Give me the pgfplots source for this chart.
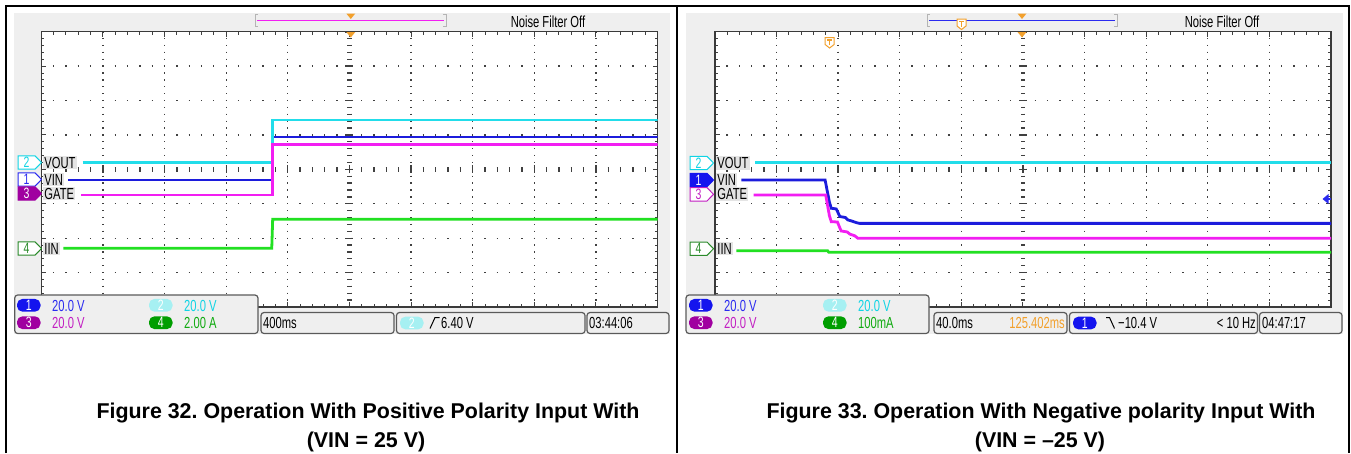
\documentclass[border=0pt]{standalone}
\usepackage{pgfplots}
\pgfplotsset{compat=1.18}
\usepackage{fontspec}
\setmainfont{Liberation Sans}
\newfontfamily\scopefont[FakeStretch=0.70]{Liberation Sans}

\definecolor{bgc}{HTML}{EFEFEF}
\definecolor{lblbg}{HTML}{E4E4E4}
\definecolor{framec}{HTML}{3A3A3A}
\definecolor{gridc}{HTML}{404040}
\definecolor{boxc}{HTML}{5A5A5A}
\definecolor{cvout}{HTML}{22DDEA}
\definecolor{cvin}{HTML}{1C1CDC}
\definecolor{cgate}{HTML}{F21EF2}
\definecolor{ciin}{HTML}{22E022}
\definecolor{torange}{HTML}{F2A02C}
\definecolor{tblue}{HTML}{2A2AF0}
\definecolor{tmag}{HTML}{C21EC2}
\definecolor{tcyan}{HTML}{10D4E4}
\definecolor{tgreen}{HTML}{10AA10}
\definecolor{mgreen}{HTML}{2A8A2A}
\definecolor{pblue}{HTML}{1414EE}
\definecolor{ppurple}{HTML}{A000A0}
\definecolor{pcyan}{HTML}{A6F0F2}
\definecolor{pgreen}{HTML}{009E00}
\definecolor{brk}{HTML}{B4B4B4}

\newcommand{\sfnt}{\scopefont\fontsize{16}{16}\selectfont}
\newcommand{\pfnt}{\scopefont\fontsize{15}{15}\selectfont}

% pill badge: x, ycentre, fill, digit
\newcommand{\pill}[4]{%
  \fill[#3, rounded corners=5.5pt] (#1,#2-6.4) rectangle (#1+23.5,#2+6.4);
  \node[text=white, inner sep=0pt] at (#1+11.75,#2) {\pfnt #4};}
% channel marker: x, ycentre, colour, digit, filled
\newcommand{\chmark}[5]{%
  \ifnum#5=1
    \filldraw[fill=#3, draw=#3, line width=1pt] (#1,#2-6.7) -- (#1+17,#2-6.7) -- (#1+23.5,#2) -- (#1+17,#2+6.7) -- (#1,#2+6.7) -- cycle;
    \node[text=white, inner sep=0pt] at (#1+8.5,#2) {\pfnt #4};
  \else
    \filldraw[fill=white, draw=#3, line width=1pt] (#1,#2-6.7) -- (#1+17,#2-6.7) -- (#1+23.5,#2) -- (#1+17,#2+6.7) -- (#1,#2+6.7) -- cycle;
    \node[text=#3, inner sep=0pt] at (#1+8.5,#2) {\pfnt #4};
  \fi}
\newcommand{\chlabel}[3]{%
  \node[anchor=west, fill=lblbg, inner sep=1.2pt, text=black] at (#1,#2) {\sfnt #3};}
\newcommand{\otri}[2]{\fill[torange] (#1-4.5,#2) -- (#1+4.5,#2) -- (#1,#2+5.5) -- cycle;}
\newcommand{\tmark}[2]{%
  \filldraw[fill=white, draw=torange, line width=1pt] (#1-4.5,#2) -- (#1+4.5,#2) -- (#1+4.5,#2+7) -- (#1,#2+10.5) -- (#1-4.5,#2+7) -- cycle;
  \draw[torange, line width=1.2pt] (#1-2.5,#2+2.5) -- (#1+2.5,#2+2.5) (#1,#2+2.5) -- (#1,#2+7.5);}
\newcommand{\gridat}[1]{%
 \begin{scope}[xshift=#1pt]
 \foreach \k in {1,2,3,4,6,7,8,9}{
   \draw[gridc, line width=1.3pt, dash pattern=on 1.3pt off 5.583pt, dash phase=0.65pt]
     ({41.3+61.62*\k},31.7) -- ({41.3+61.62*\k},307);}
 \foreach \j in {1,2,3,5,6,7}{
   \draw[gridc, line width=1.3pt, dash pattern=on 1.3pt off 11.024pt, dash phase=0.65pt]
     (41.3,{31.7+34.41*\j}) -- (657.5,{31.7+34.41*\j});}
 \draw[gridc, line width=4.5pt, dash pattern=on 1.3pt off 11.024pt, dash phase=0.65pt] (41.3,169.35) -- (657.5,169.35);
 \draw[gridc, line width=8pt, dash pattern=on 1.3pt off 60.32pt, dash phase=0.65pt] (41.3,169.35) -- (657.5,169.35);
 \draw[gridc, line width=4.5pt, dash pattern=on 1.3pt off 5.583pt, dash phase=0.65pt] (349.4,31.7) -- (349.4,307);
 \draw[gridc, line width=8pt, dash pattern=on 1.3pt off 33.11pt, dash phase=0.65pt] (349.4,31.7) -- (349.4,307);
 \end{scope}}

\pgfplotsset{scopeaxis/.style={
  width=616.2pt, height=275.3pt, scale only axis,
  xmin=0, xmax=10, ymin=-4, ymax=4,
  xtick={0,1,...,10}, ytick={-4,-3,...,4},
  minor x tick num=4, minor y tick num=4,
  xticklabels={}, yticklabels={},
  tick align=inside, major tick length=5pt, minor tick length=3pt,
  tick style={gridc, line width=0.9pt},
  axis line style={framec, line width=1.4pt},
  clip=true,
}}

\begin{document}
\frenchspacing
\begin{tikzpicture}
\useasboundingbox (0pt,0pt) rectangle (1351pt,-453pt);

% ---------- backgrounds and graticules ----------
\begin{scope}[x=1pt,y=-1pt]
  \fill[bgc] (14,13) rectangle (670,334);
  \fill[bgc] (686,13) rectangle (1343,334);
  \fill[white] (41.3,31.7) rectangle (657.5,307);
  \fill[white] (714.8,31.7) rectangle (1331,307);
  \gridat{0}
  \gridat{673.5}
\end{scope}

% ---------- left scope: Figure 32 ----------
\begin{axis}[scopeaxis, at={(41.3pt,-307pt)}, anchor=south west]
\addplot[cvin, line width=2.8pt] coordinates {(0.44,-0.31) (3.755,-0.31) (3.755,0.940) (10,0.940)};
\addplot[cvout, line width=2.8pt] coordinates {(0.67,0.205) (3.755,0.205) (3.755,1.434) (10,1.434)};
\addplot[cgate, line width=2.8pt] coordinates {(0.65,-0.745) (3.755,-0.745) (3.755,0.728) (10,0.728)};
\addplot[ciin, line width=2.8pt] coordinates {(0.36,-2.294) (3.74,-2.294) (3.755,-1.452) (10,-1.452)};
\end{axis}

% ---------- right scope: Figure 33 ----------
\begin{axis}[scopeaxis, at={(714.8pt,-307pt)}, anchor=south west]
\addplot[cvout, line width=3.2pt] coordinates {(0.66,0.19) (10,0.19)};
\addplot[cvin, line width=2.8pt] coordinates {(0.43,-0.31) (1.79,-0.31) (1.86,-0.95) (1.89,-1.13) (1.97,-1.15) (2.03,-1.37) (2.12,-1.40) (2.16,-1.47) (2.22,-1.50) (2.30,-1.55) (2.35,-1.57) (10,-1.57)};
\addplot[cgate, line width=2.8pt] coordinates {(0.63,-0.745) (1.80,-0.745) (1.86,-1.35) (1.89,-1.52) (1.99,-1.53) (2.05,-1.79) (2.15,-1.82) (2.19,-1.88) (2.27,-1.93) (2.32,-2.0) (10,-2.0)};
\addplot[ciin, line width=2.8pt] coordinates {(0.35,-2.364) (1.83,-2.364) (1.85,-2.41) (10,-2.41)};
\end{axis}

% ---------- overlays ----------
\begin{scope}[x=1pt,y=-1pt]
  % top bars
  \draw[brk, line width=1pt] (258,14) -- (255,14) -- (255,26) -- (258,26);
  \draw[brk, line width=1pt] (443,14) -- (446,14) -- (446,26) -- (443,26);
  \draw[cgate, line width=1.6pt] (257,20.3) -- (444,20.3);
  \otri{350.8}{13.5}
  \otri{350.8}{32}
  \draw[brk, line width=1pt] (930,14) -- (927,14) -- (927,26) -- (930,26);
  \draw[brk, line width=1pt] (1114,14) -- (1117,14) -- (1117,26) -- (1114,26);
  \draw[tblue, line width=1.6pt] (929,20.3) -- (1115,20.3);
  \tmark{961.5}{19}
  \otri{1022}{13.5}
  \otri{1022}{32}
  \tmark{829.6}{37.5}
  % noise filter text
  \node[anchor=base, inner sep=0pt] at (548,27) {\sfnt Noise Filter Off};
  \node[anchor=base, inner sep=0pt] at (1222,27) {\sfnt Noise Filter Off};
  % channel markers and labels, left
  \chlabel{43}{162.5}{VOUT}
  \chlabel{43}{179.5}{VIN}
  \chlabel{43}{193.5}{GATE}
  \chlabel{43}{248.5}{IIN}
  \chmark{18}{162.5}{tcyan}{2}{0}
  \chmark{18}{179.5}{tblue}{1}{0}
  \chmark{18}{193.5}{ppurple}{3}{1}
  \chmark{18}{248.5}{mgreen}{4}{0}
  % right
  \chlabel{716}{163}{VOUT}
  \chlabel{716}{180}{VIN}
  \chlabel{716}{194.3}{GATE}
  \chlabel{716}{248.7}{IIN}
  \chmark{690}{163}{tcyan}{2}{0}
  \chmark{690}{180}{pblue}{1}{1}
  \chmark{690}{194.3}{tmag}{3}{0}
  \chmark{690}{248.7}{mgreen}{4}{0}
  % trigger level arrow (right)
  \fill[tblue] (1322.5,199) -- (1328.5,194) -- (1328.5,204) -- cycle;
  \draw[tblue, line width=1.6pt] (1327,199) -- (1331,199);

  % ---- info boxes, left ----
  \filldraw[fill=bgc, draw=boxc, line width=1.2pt, rounded corners=3pt] (14.7,295) rectangle (258,333.5);
  \pill{17}{305.3}{pblue}{1}
  \pill{17}{322.7}{ppurple}{3}
  \pill{149}{305.3}{pcyan}{2}
  \pill{149}{322.7}{pgreen}{4}
  \node[anchor=base west, inner sep=0pt, text=tblue] at (52,311.7) {\sfnt 20.0 V};
  \node[anchor=base west, inner sep=0pt, text=tmag] at (52,328.5) {\sfnt 20.0 V};
  \node[anchor=base west, inner sep=0pt, text=tcyan] at (184,311.7) {\sfnt 20.0 V};
  \node[anchor=base west, inner sep=0pt, text=tgreen] at (184,328.5) {\sfnt 2.00 A};
  \filldraw[fill=bgc, draw=boxc, line width=1.2pt, rounded corners=3pt] (261,312.5) rectangle (394,333.5);
  \filldraw[fill=bgc, draw=boxc, line width=1.2pt, rounded corners=3pt] (396.5,312.5) rectangle (585,333.5);
  \filldraw[fill=bgc, draw=boxc, line width=1.2pt, rounded corners=3pt] (587,312.5) rectangle (669,333.5);
  \node[anchor=base west, inner sep=0pt] at (263,328.5) {\sfnt 400ms};
  \pill{400}{323}{pcyan}{2}
  \draw[black, line width=1pt] (430,328.5) -- (435,317.5) -- (439.5,317.5);
  \node[anchor=base west, inner sep=0pt] at (441,328.5) {\sfnt 6.40 V};
  \node[anchor=base west, inner sep=0pt] at (589,328.5) {\sfnt 03:44:06};

  % ---- info boxes, right ----
  \filldraw[fill=bgc, draw=boxc, line width=1.2pt, rounded corners=3pt] (686,295) rectangle (929,333.5);
  \pill{689}{305.3}{pblue}{1}
  \pill{689}{322.7}{ppurple}{3}
  \pill{823}{305.3}{pcyan}{2}
  \pill{823}{322.7}{pgreen}{4}
  \node[anchor=base west, inner sep=0pt, text=tblue] at (724,311.7) {\sfnt 20.0 V};
  \node[anchor=base west, inner sep=0pt, text=tmag] at (724,328.5) {\sfnt 20.0 V};
  \node[anchor=base west, inner sep=0pt, text=tcyan] at (858,311.7) {\sfnt 20.0 V};
  \node[anchor=base west, inner sep=0pt, text=tgreen] at (858,328.5) {\sfnt 100mA};
  \filldraw[fill=bgc, draw=boxc, line width=1.2pt, rounded corners=3pt] (934,312.5) rectangle (1067,333.5);
  \filldraw[fill=bgc, draw=boxc, line width=1.2pt, rounded corners=3pt] (1069.5,312.5) rectangle (1257.5,333.5);
  \filldraw[fill=bgc, draw=boxc, line width=1.2pt, rounded corners=3pt] (1259.5,312.5) rectangle (1342,333.5);
  \node[anchor=base west, inner sep=0pt] at (936,328.5) {\sfnt 40.0ms};
  \node[anchor=base east, inner sep=0pt, text=torange] at (1065,328.5) {\sfnt 125.402ms};
  \pill{1073}{323}{pblue}{1}
  \draw[black, line width=1pt] (1106,317.5) -- (1109.5,317.5) -- (1114.5,328.5);
  \node[anchor=base west, inner sep=0pt] at (1118,328.5) {\sfnt −10.4 V};
  \node[anchor=base east, inner sep=0pt] at (1256,328.5) {\sfnt < 10 Hz};
  \node[anchor=base west, inner sep=0pt] at (1262,328.5) {\sfnt 04:47:17};

  % ---- outer frame ----
  \draw[black, line width=1.5pt] (6,453) -- (6,6) -- (1349,6) -- (1349,453);
  \draw[black, line width=1.5pt] (677,6) -- (677,453);

  % ---- captions ----
  \node[anchor=base, inner sep=0pt, font=\bfseries\fontsize{21.4}{21.4}\selectfont] at (368,418) {Figure 32. Operation With Positive Polarity Input With};
  \node[anchor=base, inner sep=0pt, font=\bfseries\fontsize{21.4}{21.4}\selectfont] at (366,447) {(VIN = 25 V)};
  \node[anchor=base, inner sep=0pt, font=\bfseries\fontsize{21.4}{21.4}\selectfont] at (1041,418) {Figure 33. Operation With Negative polarity Input With};
  \node[anchor=base, inner sep=0pt, font=\bfseries\fontsize{21.4}{21.4}\selectfont] at (1040,447) {(VIN = –25 V)};
\end{scope}
\end{tikzpicture}
\end{document}
